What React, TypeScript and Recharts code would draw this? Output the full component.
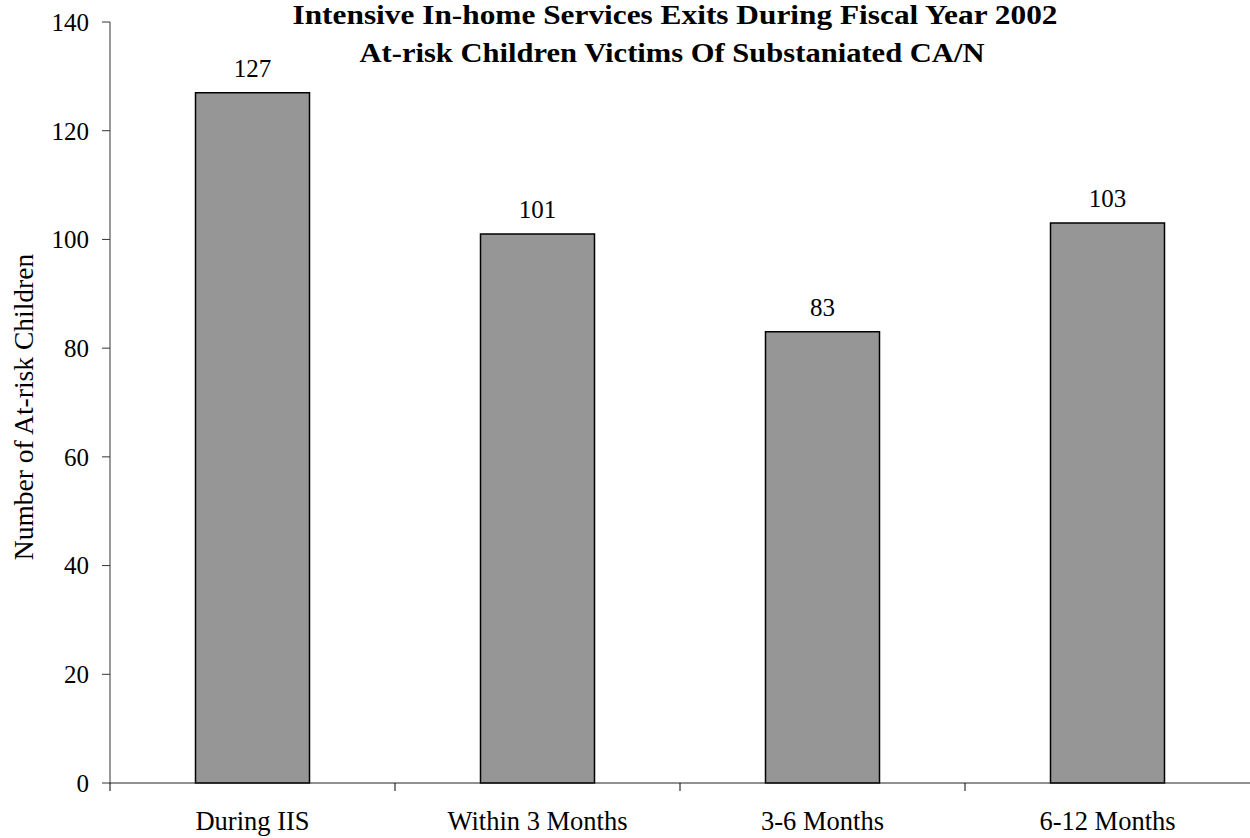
import React from 'react';
import { BarChart, Bar, XAxis, YAxis, LabelList } from 'recharts';

// values
const categories = ['During IIS', 'Within 3 Months', '3-6 Months', '6-12 Months'];
const childCounts = [127, 101, 83, 103];
const yTicks = [0, 20, 40, 60, 80, 100, 120, 140];

const titleLines = [
  'Intensive In-home Services Exits During Fiscal Year 2002',
  'At-risk Children Victims Of Substaniated CA/N',
];
const yAxisTitle = 'Number of At-risk Children';

const data = categories.map((name, i) => ({ name, count: childCounts[i] }));

const FONT = 'Liberation Serif, Times New Roman, serif';
const BAND = (1250 - 110) / categories.length;

// category label at band centre + tick mark at the band's left edge
const CategoryTick = (props: any) => {
  const { x, y, payload } = props;
  const edge = x - BAND / 2;
  return (
    <g>
      <line x1={edge} y1={y - 8} x2={edge} y2={y} stroke="#000" strokeWidth={1} />
      <text x={x} y={y + 39} textAnchor="middle" fontFamily={FONT} fontSize={26.5} fill="#000">
        {payload.value}
      </text>
    </g>
  );
};

export default function App() {
  return (
    <div style={{ position: 'absolute', left: 0, top: 0, width: 1250, height: 838, background: '#fff' }}>
      <BarChart
        width={1250}
        height={838}
        data={data}
        margin={{ top: 22, right: 0, bottom: 0, left: 0 }}
        barCategoryGap="30%"
      >
        <XAxis
          dataKey="name"
          height={55}
          stroke="#222"
          tickSize={8}
          tickMargin={0}
          tickLine={false}
          interval={0}
          tick={<CategoryTick />}
        />
        <YAxis
          width={110}
          domain={[0, 140]}
          ticks={yTicks}
          stroke="#333"
          tickSize={8}
          tickMargin={13}
          tick={{ fontFamily: FONT, fontSize: 25, fill: '#000' }}
        />
        <Bar dataKey="count" fill="#969696" stroke="#000" strokeWidth={1.5} isAnimationActive={false}>
          <LabelList
            dataKey="count"
            position="top"
            offset={16}
            style={{ fontFamily: FONT, fontSize: 25, fill: '#000' }}
          />
        </Bar>
      </BarChart>
      <svg
        width={1250}
        height={838}
        style={{ position: 'absolute', left: 0, top: 0, pointerEvents: 'none' }}
      >
        <text
          x={675}
          y={24}
          textAnchor="middle"
          fontFamily={FONT}
          fontWeight="bold"
          fontSize={28}
          textLength={765}
          lengthAdjust="spacingAndGlyphs"
        >
          {titleLines[0]}
        </text>
        <text
          x={672}
          y={62}
          textAnchor="middle"
          fontFamily={FONT}
          fontWeight="bold"
          fontSize={28}
          textLength={625}
          lengthAdjust="spacingAndGlyphs"
        >
          {titleLines[1]}
        </text>
        <text
          x={33}
          y={407}
          transform="rotate(-90 33 407)"
          textAnchor="middle"
          fontFamily={FONT}
          fontSize={27.5}
        >
          {yAxisTitle}
        </text>
      </svg>
    </div>
  );
}
